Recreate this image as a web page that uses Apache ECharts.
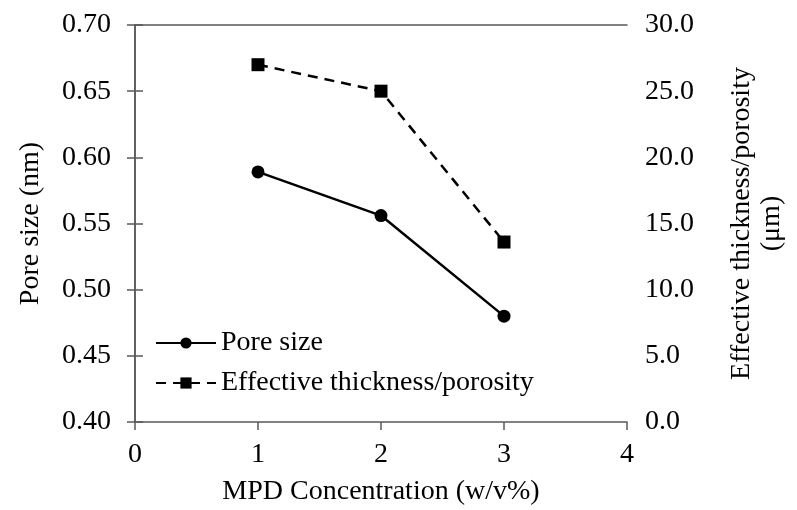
<!DOCTYPE html>
<html lang="en">
<head>
    <meta charset="UTF-8">
    <title>Pore size vs MPD</title>
    <script src="https://cdn.jsdelivr.net/npm/echarts@6/dist/echarts.min.js"></script>
</head>
<body style="margin:0;">
    <div id="main" style="width:797px;height:510px;"></div>
</body>
<script type="text/javascript">
    // data
    var mpdConc = [1, 2, 3];
    var poreSize = [0.589, 0.556, 0.480];
    var effThickness = [27.0, 25.0, 13.6];

    var font = 'Liberation Serif, Times New Roman, serif';
    var axisColor = '#595959';

    var myChart = echarts.init(document.getElementById('main'));

    var option = {
        animation: false,
        textStyle: { fontFamily: font, color: '#000' },
        grid: { left: 135, right: 170, top: 25, bottom: 88, outerBoundsMode: 'none', containLabel: false },
        legend: {
            orient: 'vertical',
            left: 150,
            top: 324,
            itemGap: 12,
            itemWidth: 60,
            itemHeight: 14,
            textStyle: { fontFamily: font, fontSize: 28, color: '#000' },
            data: ['Pore size', 'Effective thickness/porosity']
        },
        xAxis: [{
            type: 'value',
            min: 0, max: 4, interval: 1,
            name: 'MPD Concentration (w/v%)',
            nameLocation: 'middle',
            nameGap: 56,
            nameTextStyle: { fontFamily: font, fontSize: 28, color: '#000' },
            axisLine: { lineStyle: { color: axisColor, width: 1.5 } },
            axisTick: { show: true, length: 8, lineStyle: { color: axisColor, width: 1.5 } },
            axisLabel: { fontFamily: font, fontSize: 28, color: '#000', margin: 19 },
            splitLine: { show: false }
        }, {
            type: 'value',
            position: 'top',
            min: 0, max: 4,
            axisLine: { show: true, onZero: false, lineStyle: { color: axisColor, width: 1.5 } },
            axisTick: { show: false },
            axisLabel: { show: false },
            splitLine: { show: false }
        }],
        yAxis: [{
            type: 'value',
            min: 0.40, max: 0.70, interval: 0.05,
            name: 'Pore size (nm)',
            nameLocation: 'middle',
            nameGap: 90,
            nameRotate: 90,
            nameTextStyle: { fontFamily: font, fontSize: 28, color: '#000' },
            axisLine: { show: true, lineStyle: { color: axisColor, width: 1.5 } },
            axisTick: { show: true, length: 8, lineStyle: { color: axisColor, width: 1.5 } },
            axisLabel: {
                fontFamily: font, fontSize: 28, color: '#000', margin: 24,
                formatter: function (v) { return v.toFixed(2); }
            },
            splitLine: { show: false }
        }, {
            type: 'value',
            position: 'right',
            min: 0, max: 30, interval: 5,
            name: 'Effective thickness/porosity\n(\u03bcm)',
            nameLocation: 'middle',
            nameGap: 100,
            nameRotate: 90,
            nameTextStyle: { fontFamily: font, fontSize: 28, color: '#000', lineHeight: 30, align: 'center' },
            axisLine: { show: true, lineStyle: { color: axisColor, width: 1.5 } },
            axisTick: { show: true, length: 8, lineStyle: { color: axisColor, width: 1.5 } },
            axisLabel: {
                fontFamily: font, fontSize: 28, color: '#000', margin: 18,
                formatter: function (v) { return v.toFixed(1); }
            },
            splitLine: { show: false }
        }],
        series: [{
            name: 'Pore size',
            type: 'line',
            yAxisIndex: 0,
            data: mpdConc.map(function (x, i) { return [x, poreSize[i]]; }),
            symbol: 'circle',
            symbolSize: 13,
            itemStyle: { color: '#000' },
            lineStyle: { color: '#000', width: 2.5, type: 'solid' }
        }, {
            name: 'Effective thickness/porosity',
            type: 'line',
            yAxisIndex: 1,
            data: mpdConc.map(function (x, i) { return [x, effThickness[i]]; }),
            symbol: 'rect',
            symbolSize: 13,
            itemStyle: { color: '#000' },
            lineStyle: { color: '#000', width: 2.5, type: [10, 7] }
        }]
    };

    myChart.setOption(option);
</script>
</html>
